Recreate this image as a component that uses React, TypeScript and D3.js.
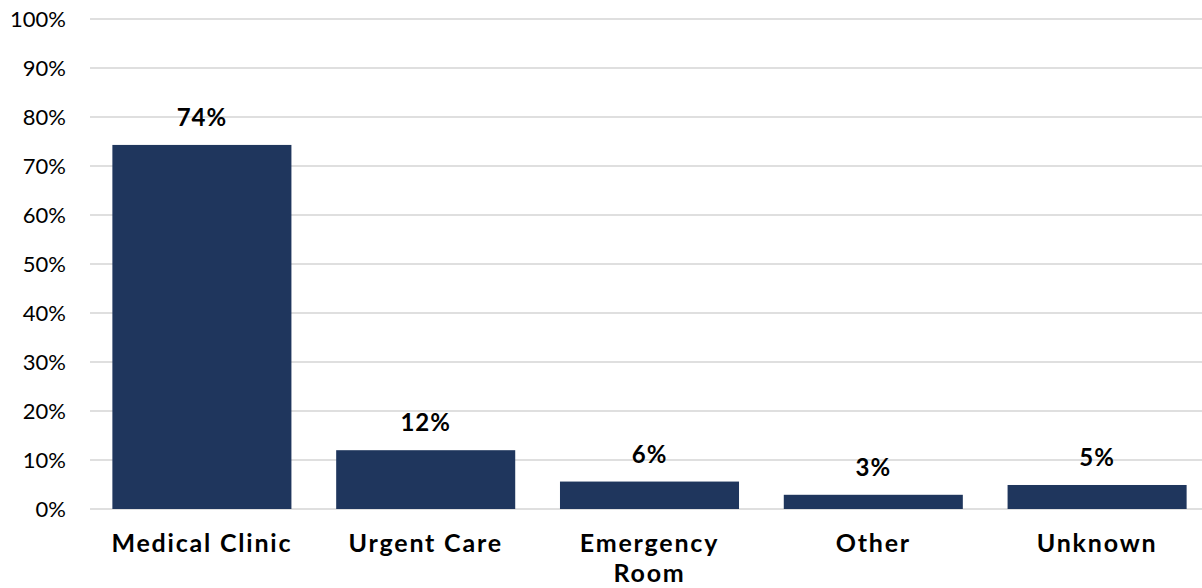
import React from "react";
import * as d3 from "d3";

const categories: string[][] = [["Medical Clinic"], ["Urgent Care"], ["Emergency", "Room"], ["Other"], ["Unknown"]];
const values: number[] = [74.3, 12, 5.6, 2.9, 4.9];
const yTicks: number[] = [0, 10, 20, 30, 40, 50, 60, 70, 80, 90, 100];

const W = 1202;
const H = 588;
const FONT = "Lato, 'Open Sans', sans-serif";

export default function App() {
  const keys = categories.map((c) => c.join(" "));
  const x = d3.scaleBand<string>().domain(keys).range([90, 1209]).paddingInner(0.2).paddingOuter(0.1);
  const y = d3.scaleLinear().domain([0, 100]).range([509, 19]);
  return (
    <svg width={W} height={H} style={{ position: "absolute", left: 0, top: 0, background: "#fff" }}>
      {yTicks.map((t) => (
        <g key={t}>
          <line x1={90} x2={W} y1={y(t)} y2={y(t)} stroke="#d4d4d4" strokeWidth={1.5} />
          <text x={66} y={y(t)} dy="0.36em" textAnchor="end" fontFamily={FONT} fontSize={22} fill="#000">
            {t}%
          </text>
        </g>
      ))}
      {values.map((v, i) => {
        const k = keys[i];
        const bx = x(k) as number;
        return (
          <g key={k}>
            <rect x={bx} y={y(v)} width={x.bandwidth()} height={y(0) - y(v)} fill="#1f365d" />
            <text x={bx + x.bandwidth() / 2} y={y(v) - 19} textAnchor="middle" fontFamily={FONT} fontWeight="bold" fontSize={24} letterSpacing={1} fill="#000">
              {Math.round(v)}%
            </text>
            {categories[i].map((line, j) => (
              <text key={j} x={bx + x.bandwidth() / 2} y={552 + j * 30} textAnchor="middle" fontFamily={FONT} fontWeight="bold" fontSize={25} letterSpacing={1.8} fill="#000">
                {line}
              </text>
            ))}
          </g>
        );
      })}
    </svg>
  );
}
